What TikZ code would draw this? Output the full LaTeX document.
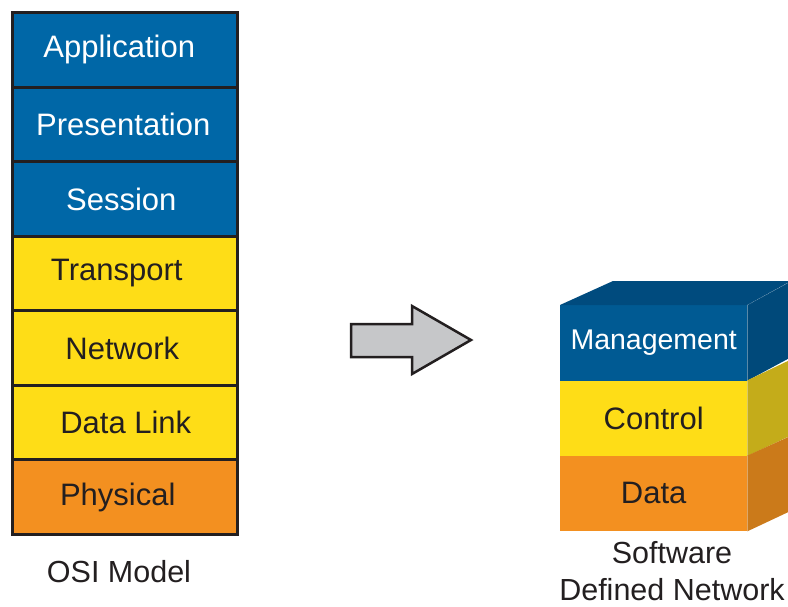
\documentclass[tikz,border=0pt]{standalone}
\usepackage{fontspec}
\setmainfont{Liberation Sans}
\definecolor{osiblue}{HTML}{0067A7}
\definecolor{osiyellow}{HTML}{FEDD17}
\definecolor{osiorange}{HTML}{F39020}
\definecolor{ink}{HTML}{231F20}
\definecolor{cubeblue}{HTML}{005A93}
\definecolor{cubebluetop}{HTML}{004B7E}
\definecolor{cubeblueside}{HTML}{00497A}
\definecolor{cubeyellowside}{HTML}{C4AC1A}
\definecolor{cubeorangeside}{HTML}{CB7A1A}
\definecolor{arrowgray}{HTML}{C6C7C9}
% shift a label sideways inside its box
\newcommand{\nudge}[2]{\hspace*{#1}#2}
\begin{document}
\begin{tikzpicture}[x=1pt,y=-1pt,
  layer/.style={draw=ink,line width=3pt,minimum width=224.5pt,minimum height=74.57pt,
    inner sep=0pt,anchor=north west,font=\fontsize{31}{36}\selectfont},
  bluelayer/.style={layer,fill=osiblue,text=white},
  yellowlayer/.style={layer,fill=osiyellow,text=ink},
  orangelayer/.style={layer,fill=osiorange,text=ink},
  cubeface/.style={minimum width=187pt,minimum height=75.3pt,inner sep=0pt,
    anchor=north west,font=\fontsize{31}{36}\selectfont},
  caption/.style={text=ink,font=\fontsize{30.5}{37}\selectfont,align=center}]
\useasboundingbox (0,0) rectangle (788,606);

% OSI stack
\node[bluelayer]   (app)  at (11,11)      {\nudge{-11pt}{Application}};
\node[bluelayer]   (pres) at (11,85.57)   {\nudge{-3pt}{Presentation}};
\node[bluelayer]   (sess) at (11,160.14)  {\nudge{-7pt}{Session}};
\node[yellowlayer] (tran) at (11,234.71)  {\nudge{-16pt}{Transport}};
\node[yellowlayer] (net)  at (11,309.28)  {\nudge{-5pt}{Network}};
\node[yellowlayer] (link) at (11,383.85)  {\nudge{2pt}{Data Link}};
\node[orangelayer] (phys) at (11,458.42)  {\nudge{-14pt}{Physical}};
\node[caption] (osi) at (119,572) {OSI Model};

% transition arrow
\coordinate (arrowtip) at (471,340);
\draw[fill=arrowgray,draw=ink,line width=2.5pt,line join=miter]
  (351,324) -- (412,324) -- (412,306) -- (arrowtip) -- (412,374) -- (412,357)
  -- (351,357) -- cycle;

% SDN cube: front faces
\node[cubeface,fill=cubeblue,text=white,font=\fontsize{28.5}{34}\selectfont] (mgmt) at (560,305) {Management};
\node[cubeface,fill=osiyellow,text=ink]  (ctrl) at (560,380.3) {Control};
\node[cubeface,fill=osiorange,text=ink]  (data) at (560,455.6) {Data};

% top and side faces
\fill[cubebluetop] (mgmt.north west) -- ++(53,-24) -- ++(178,0) -- (mgmt.north east) -- cycle;
\fill[cubeblueside] (mgmt.north east) -- ++(44,-24) -- ++(0,76) -- (mgmt.south east) -- cycle;
\fill[cubeyellowside] (ctrl.north east) -- ++(44,-21) -- ++(0,76) -- (ctrl.south east) -- cycle;
\fill[cubeorangeside] (data.north east) -- ++(44,-20) -- ++(0,75) -- (data.south east) -- cycle;
\draw[white!60!cubeblueside,line width=0.4pt,densely dotted] (mgmt.north east) -- ++(44,-24);

\node[caption] (sdn) at (672,571) {Software\\Defined Network};
\end{tikzpicture}
\end{document}
